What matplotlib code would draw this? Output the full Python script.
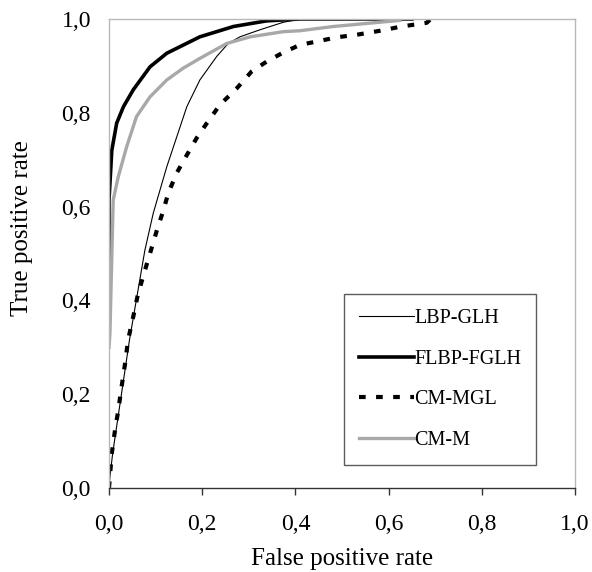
import matplotlib
matplotlib.use("Agg")
import matplotlib.pyplot as plt

plt.rcParams['font.family'] = ['Liberation Serif', 'DejaVu Serif']

# ROC curves
lbp_fpr = [0.0, 0.002, 0.008, 0.044, 0.077, 0.095, 0.124, 0.167, 0.195, 0.231, 0.256, 0.281, 0.324, 0.374, 0.41]
lbp_tpr = [0.0, 0.024, 0.075, 0.316, 0.507, 0.586, 0.685, 0.813, 0.870, 0.920, 0.948, 0.962, 0.977, 0.993, 1.0]

flbp_fpr = [0.0, 0.0, 0.006, 0.0165, 0.031, 0.052, 0.088, 0.124, 0.195, 0.267, 0.338, 0.41, 0.65]
flbp_tpr = [0.36, 0.614, 0.72, 0.778, 0.813, 0.849, 0.898, 0.927, 0.962, 0.984, 0.996, 1.0, 1.0]

cmmgl_fpr = [0.0, 0.006, 0.013, 0.020, 0.027, 0.034, 0.041, 0.052, 0.061, 0.074, 0.088, 0.102, 0.117,
             0.127, 0.145, 0.163, 0.188, 0.210, 0.238, 0.274, 0.306, 0.338, 0.371, 0.41, 0.446, 0.489,
             0.535, 0.582, 0.628, 0.682, 0.69]
cmmgl_tpr = [0.0, 0.074, 0.124, 0.166, 0.216, 0.262, 0.316, 0.365, 0.408, 0.454, 0.500, 0.547, 0.593,
             0.628, 0.671, 0.703, 0.746, 0.778, 0.817, 0.852, 0.888, 0.909, 0.927, 0.945, 0.952, 0.961,
             0.967, 0.975, 0.984, 0.992, 1.0]

cmm_fpr = [0.0, 0.002, 0.009, 0.02, 0.038, 0.059, 0.088, 0.124, 0.159, 0.195, 0.253, 0.303, 0.374, 0.41, 0.481, 0.624]
cmm_tpr = [0.30, 0.33, 0.614, 0.664, 0.728, 0.792, 0.834, 0.870, 0.895, 0.916, 0.948, 0.962, 0.973, 0.975, 0.984, 0.997]

ticks = [0.0, 0.2, 0.4, 0.6, 0.8, 1.0]
tick_labels = ['0,0', '0,2', '0,4', '0,6', '0,8', '1,0']

fig = plt.figure(figsize=(5.92, 5.72), dpi=100)
ax = fig.add_axes([109/592, 1 - 488/572, 466/592, 469/572])

ax.plot(lbp_fpr, lbp_tpr, color='black', lw=0.8, label='LBP-GLH')
ax.plot(flbp_fpr, flbp_tpr, color='black', lw=2.6, label='FLBP-FGLH')
ax.plot(cmmgl_fpr, cmmgl_tpr, color='black', lw=3.0, linestyle=(0, (1.6, 2.5)),
        dash_capstyle='butt', label='CM-MGL')
ax.plot(cmm_fpr, cmm_tpr, color='#a8a8a8', lw=2.4, label='CM-M')

ax.set_xlim(0, 1)
ax.set_ylim(0, 1)
ax.set_xticks(ticks)
ax.set_xticklabels(tick_labels, fontsize=17)
ax.set_yticks(ticks)
ax.set_yticklabels(tick_labels, fontsize=17)
ax.tick_params(axis='x', direction='out', length=5, width=1, color='#333333', pad=14)
ax.tick_params(axis='y', length=0, pad=13)

for s in ['top', 'right', 'left']:
    ax.spines[s].set_color('#b8b8b8')
    ax.spines[s].set_linewidth(1.0)
ax.spines['bottom'].set_color('#333333')
ax.spines['bottom'].set_linewidth(1.0)

ax.set_xlabel('False positive rate', fontsize=18)
ax.set_ylabel('True positive rate', fontsize=18)
ax.xaxis.set_label_coords(0.5, -0.127)
ax.yaxis.set_label_coords(-0.163, 0.555)

leg = ax.legend(loc='upper left', bbox_to_anchor=(0.504, 0.414), fontsize=14.5,
                frameon=True, fancybox=False, handlelength=2.75, handletextpad=0.0,
                labelspacing=1.07, borderpad=0.75, borderaxespad=0)
leg.get_frame().set_edgecolor('#333333')
leg.get_frame().set_linewidth(1.0)

fig.savefig('out.png', dpi=100)
